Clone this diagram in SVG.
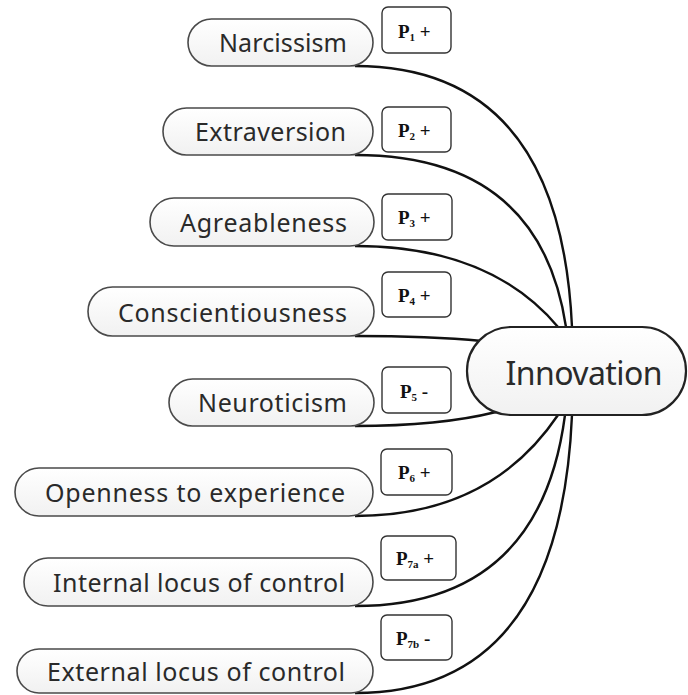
<svg xmlns="http://www.w3.org/2000/svg" width="688" height="695" viewBox="0 0 688 695">
<defs>
<linearGradient id="g" x1="0" y1="0" x2="0" y2="1">
<stop offset="0" stop-color="#ffffff"/>
<stop offset="1" stop-color="#f1f1f1"/>
</linearGradient>
</defs>
<style>
.node rect{fill:url(#g);stroke:#4a4a4a;stroke-width:1.6}
.node text{font-family:"Noto Sans","Open Sans",sans-serif;font-size:25px;fill:#2a2a2a;text-anchor:end}
.lab rect{fill:#ffffff;stroke:#333;stroke-width:1.4}
.lab text{font-family:"Liberation Serif","Times New Roman",serif;font-weight:bold;font-size:19px;fill:#111}
.lab .s{font-size:11px}
.conn path{fill:none;stroke:#111;stroke-width:2.4}
</style>
<rect width="688" height="695" fill="#ffffff"/>
<g id="connectors" class="conn">
<path d="M355,66 Q560,66 572,327"/>
<path d="M355,155 Q540,155 566,327"/>
<path d="M355,246 Q490,246 558,327"/>
<path d="M355,336 Q430,336 482,341"/>
<path d="M355,426 Q440,426 496,412"/>
<path d="M355,516 Q490,516 558,415"/>
<path d="M355,606 Q540,606 565,415"/>
<path d="M355,693 Q560,693 572,415"/>
</g>
<g id="innovation" class="node">
<rect x="467" y="327" width="219" height="88" rx="44" ry="44" style="stroke-width:2.2;stroke:#222"/>
<text x="584" y="385" style="font-size:32px;text-anchor:middle" textLength="157">Innovation</text>
</g>
<g id="narcissism" class="node">
<rect x="188" y="19" width="185" height="47" rx="23.5"/>
<text x="347" y="52" textLength="128">Narcissism</text>
</g>
<g id="extraversion" class="node">
<rect x="163" y="108" width="210" height="47" rx="23.5"/>
<text x="346" y="141" textLength="151">Extraversion</text>
</g>
<g id="agreableness" class="node">
<rect x="150" y="198" width="224" height="48" rx="24"/>
<text x="347" y="232" textLength="167">Agreableness</text>
</g>
<g id="conscientiousness" class="node">
<rect x="88" y="287" width="286" height="49" rx="24.5"/>
<text x="347" y="322" textLength="229">Conscientiousness</text>
</g>
<g id="neuroticism" class="node">
<rect x="169" y="379" width="205" height="47" rx="23.5"/>
<text x="347" y="412" textLength="149">Neuroticism</text>
</g>
<g id="openness" class="node">
<rect x="15" y="468" width="358" height="48" rx="24"/>
<text x="345" y="502" textLength="300">Openness to experience</text>
</g>
<g id="internal" class="node">
<rect x="24" y="558" width="349" height="48" rx="24"/>
<text x="345" y="592" textLength="292">Internal locus of control</text>
</g>
<g id="external" class="node">
<rect x="17" y="649" width="356" height="44" rx="22"/>
<text x="345" y="681" textLength="298">External locus of control</text>
</g>
<g id="p1" class="lab">
<rect x="382" y="7" width="69" height="46" rx="6"/>
<text x="398" y="38">P<tspan class="s" dy="3">1</tspan><tspan dy="-3"> +</tspan></text>
</g>
<g id="p2" class="lab">
<rect x="382" y="107" width="69" height="45" rx="6"/>
<text x="398" y="137">P<tspan class="s" dy="3">2</tspan><tspan dy="-3"> +</tspan></text>
</g>
<g id="p3" class="lab">
<rect x="382" y="194" width="70" height="46" rx="6"/>
<text x="398" y="224">P<tspan class="s" dy="3">3</tspan><tspan dy="-3"> +</tspan></text>
</g>
<g id="p4" class="lab">
<rect x="382" y="272" width="69" height="45" rx="6"/>
<text x="398" y="302">P<tspan class="s" dy="3">4</tspan><tspan dy="-3"> +</tspan></text>
</g>
<g id="p5" class="lab">
<rect x="382" y="367" width="69" height="46" rx="6"/>
<text x="400" y="398">P<tspan class="s" dy="3">5</tspan><tspan dy="-3"> -</tspan></text>
</g>
<g id="p6" class="lab">
<rect x="381" y="449" width="71" height="46" rx="6"/>
<text x="398" y="479">P<tspan class="s" dy="3">6</tspan><tspan dy="-3"> +</tspan></text>
</g>
<g id="p7a" class="lab">
<rect x="381" y="536" width="75" height="44" rx="6"/>
<text x="396" y="565">P<tspan class="s" dy="3">7a</tspan><tspan dy="-3"> +</tspan></text>
</g>
<g id="p7b" class="lab">
<rect x="381" y="615" width="71" height="45" rx="6"/>
<text x="396" y="645">P<tspan class="s" dy="3">7b</tspan><tspan dy="-3"> -</tspan></text>
</g>
</svg>
